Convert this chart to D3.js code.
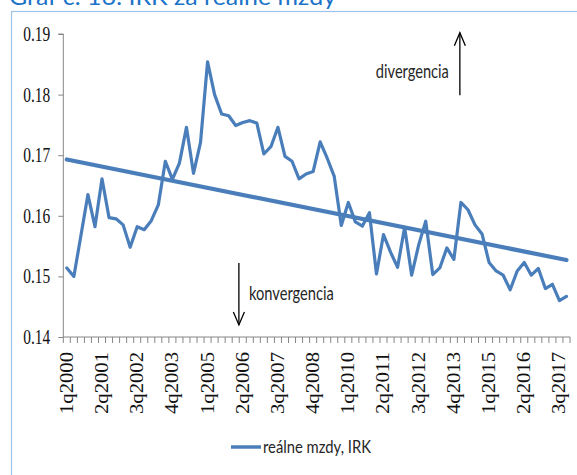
<!DOCTYPE html>
<html><head><meta charset="utf-8">
<script src="https://cdn.jsdelivr.net/npm/d3@7"></script>
<style>html,body{margin:0;padding:0;background:#fff;overflow:hidden}
.serif{font-family:"Liberation Serif","DejaVu Serif",serif}
.sans{font-family:Lato,"Open Sans",sans-serif}</style>
</head><body>
<svg id="chart" width="577" height="475"></svg>
<script>
const title = "Graf č. 16: IRK za reálne mzdy";
const seriesName = "reálne mzdy, IRK";
const years = d3.range(2000, 2018);
const quarters = ["1q","2q","3q","4q"];
const categories = [];
years.forEach(y => quarters.forEach(q => categories.push(q + y)));
const values = [
  0.1514,0.1500,0.1567,0.1635,0.1582,0.1661,0.1597,0.1595,0.1585,0.1548,
  0.1582,0.1577,0.1592,0.1618,0.1690,0.1660,0.1687,0.1746,0.1670,0.1721,
  0.1854,0.1800,0.1768,0.1765,0.1749,0.1754,0.1757,0.1753,0.1702,0.1714,
  0.1746,0.1698,0.1690,0.1661,0.1669,0.1673,0.1722,0.1695,0.1665,0.1584,
  0.1622,0.1590,0.1583,0.1605,0.1504,0.1569,0.1540,0.1515,0.1581,0.1502,
  0.1552,0.1591,0.1503,0.1514,0.1547,0.1528,0.1622,0.1610,0.1585,0.1570,
  0.1523,0.1509,0.1502,0.1478,0.1509,0.1523,0.1502,0.1513,0.1480,0.1487,
  0.1460,0.1467
];
const trendValues = [0.1693, 0.1527];
const yTicks = [0.14, 0.15, 0.16, 0.17, 0.18, 0.19];
const labelEvery = 5;
const annotations = [
  {text: "divergencia", pos: 55.85, from: 0.1799, to: 0.1902, textSide: "left"},
  {text: "konvergencia", pos: 24.45, from: 0.1522, to: 0.1420, textSide: "right"}
];

const svg = d3.select("#chart");
const blue = "#4A7EBB";
const axisColor = "#868686";

// frame
svg.append("rect").attr("x", 11.5).attr("y", 11.5).attr("width", 600).attr("height", 500)
  .attr("fill", "none").attr("stroke", "#9DC3E6").attr("stroke-width", 1.2);

// title (partially clipped at top, as in the reference)
svg.append("text").attr("class", "sans").attr("x", 9).attr("y", 4.5).text(title)
  .style("font-size", "24px")
  .attr("fill", "#1A73C9").attr("textLength", 327).attr("lengthAdjust", "spacingAndGlyphs");

const x = d3.scaleBand().domain(categories).range([63.3, 570]).paddingInner(0).paddingOuter(0);
const y = d3.scaleLinear().domain([0.14, 0.19]).range([337, 34]);
const cx = c => x(c) + x.bandwidth() / 2;
const posX = p => x.range()[0] + x.bandwidth() * (p + 0.5);

// y axis
const yAxis = svg.append("g").attr("transform", "translate(63.3,0)")
  .call(d3.axisLeft(y).tickValues(yTicks).tickSize(5).tickPadding(8).tickFormat(d3.format(".2f")));
yAxis.attr("font-family", null);
yAxis.select(".domain").attr("stroke", axisColor).attr("d", `M-5,${y(0.19)}H0V${y(0.14)}`);
yAxis.selectAll(".tick line").attr("stroke", axisColor);
yAxis.selectAll(".tick text").attr("class", "serif")
  .style("font-size", "20px").attr("fill", "#111").attr("textLength", 27).attr("lengthAdjust", "spacingAndGlyphs");

// x axis
const xAxis = svg.append("g").attr("transform", `translate(0,${y(0.14)})`)
  .call(d3.axisBottom(x).tickSize(0).tickValues(categories.filter((d, i) => i % labelEvery === 0)));
xAxis.attr("font-family", null);
xAxis.select(".domain").attr("stroke", axisColor).attr("d", `M${x.range()[0]},0H${x.range()[1]}`);
xAxis.selectAll(".tick text").attr("class", "serif")
  .attr("transform", "rotate(-90)")
  .attr("x", -15).attr("y", 0).attr("dy", "0.33em")
  .attr("text-anchor", "end")
  .style("font-size", "18px").attr("fill", "#111")
  .attr("textLength", 62).attr("lengthAdjust", "spacingAndGlyphs");
// category boundary ticks
const bounds = categories.map(c => x(c)).concat([x.range()[1]]);
xAxis.append("g").selectAll("line").data(bounds).join("line")
  .attr("x1", d => d).attr("x2", d => d).attr("y1", 0).attr("y2", 6)
  .attr("stroke", axisColor).attr("stroke-width", 1);

// trend line
svg.append("line")
  .attr("x1", cx(categories[0])).attr("y1", y(trendValues[0]))
  .attr("x2", cx(categories[categories.length - 1])).attr("y2", y(trendValues[1]))
  .attr("stroke", blue).attr("stroke-width", 4.2).attr("stroke-linecap", "round");

// series line
const line = d3.line().x((d, i) => cx(categories[i])).y(d => y(d));
svg.append("path").datum(values).attr("d", line)
  .attr("fill", "none").attr("stroke", blue).attr("stroke-width", 3.2)
  .attr("stroke-linejoin", "round").attr("stroke-linecap", "round");

// annotations (arrows)
annotations.forEach(a => {
  const ax = posX(a.pos);
  const y1 = y(a.from), y2 = y(a.to);
  const dir = y2 < y1 ? 1 : -1;
  const g = svg.append("g").attr("stroke", "#000").attr("stroke-width", 1.3).attr("fill", "none");
  g.append("line").attr("x1", ax).attr("x2", ax).attr("y1", y1).attr("y2", y2);
  g.append("path").attr("d", `M${ax - 5.5},${y2 + dir * 13}L${ax},${y2}L${ax + 5.5},${y2 + dir * 13}`);
  const t = svg.append("text").attr("class", "sans")
    .style("font-size", "19px").attr("fill", "#262626")
    .text(a.text).attr("lengthAdjust", "spacingAndGlyphs");
  if (a.textSide === "left") {
    t.attr("x", ax - 11).attr("y", 78).attr("text-anchor", "end").attr("textLength", 73);
  } else {
    t.attr("x", ax + 10).attr("y", 300).attr("textLength", 85);
  }
});

// legend
const lg = svg.append("g").attr("transform", "translate(231,447)");
lg.append("line").attr("x1", 0).attr("x2", 30).attr("y1", 0).attr("y2", 0)
  .attr("stroke", blue).attr("stroke-width", 3.5);
lg.append("text").attr("class", "sans").attr("x", 32).attr("y", 0).attr("dy", "0.35em").text(seriesName)
  .style("font-size", "17px").attr("fill", "#262626")
  .attr("textLength", 108).attr("lengthAdjust", "spacingAndGlyphs");
</script>
</body></html>
